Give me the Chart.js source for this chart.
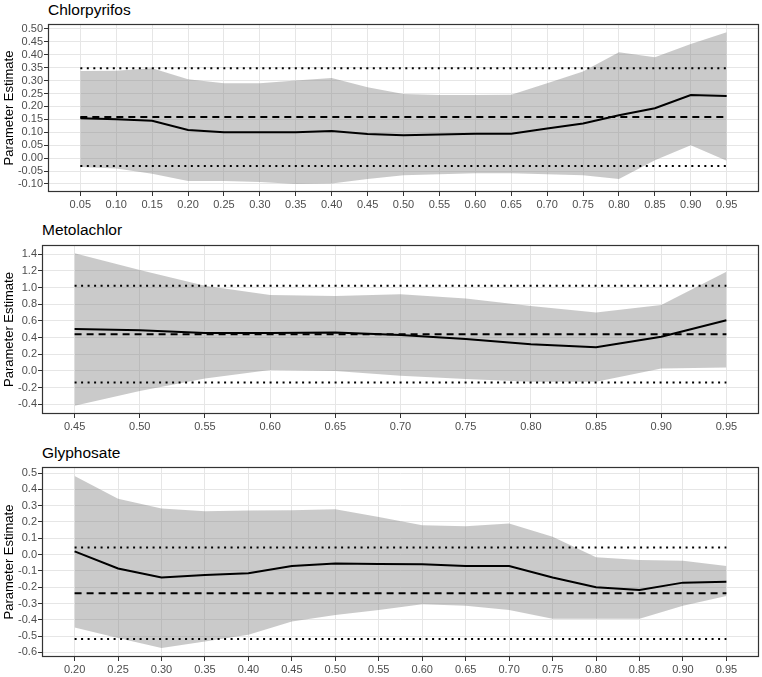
<!DOCTYPE html>
<html>
<head>
<meta charset="utf-8">
<script src="https://cdn.jsdelivr.net/npm/chart.js@4"></script>
<style>
  body { margin: 0; background: #fff; font-family: "Liberation Sans", Arial, sans-serif; }
  .wrap { position: relative; width: 762px; height: 677px; }
  canvas { position: absolute; left: 0; }
  .ptitle { position: absolute; font-size: 15.5px; line-height: 18px; color: #000; }
</style>
</head>
<body>
<div class="wrap">
  <div class="ptitle" style="left:48px; top:1px;">Chlorpyrifos</div>
  <canvas id="c1" width="762" height="215" style="top:0px; width:762px; height:215px;"></canvas>
  <div class="ptitle" style="left:42px; top:221px;">Metolachlor</div>
  <canvas id="c2" width="762" height="225" style="top:215px; width:762px; height:225px;"></canvas>
  <div class="ptitle" style="left:42px; top:444px;">Glyphosate</div>
  <canvas id="c3" width="762" height="237" style="top:440px; width:762px; height:237px;"></canvas>
</div>
<script>
// Chlorpyrifos
const chlorX = [0.05, 0.10, 0.15, 0.20, 0.25, 0.30, 0.35, 0.40, 0.45, 0.50, 0.55, 0.60, 0.65, 0.70, 0.75, 0.80, 0.85, 0.90, 0.95];
const chlorEst = [0.154, 0.150, 0.145, 0.109, 0.100, 0.100, 0.100, 0.105, 0.093, 0.089, 0.091, 0.094, 0.094, 0.115, 0.134, 0.166, 0.193, 0.244, 0.240];
const chlorUpper = [0.337, 0.338, 0.348, 0.305, 0.290, 0.290, 0.300, 0.310, 0.274, 0.248, 0.244, 0.244, 0.245, 0.290, 0.335, 0.410, 0.390, 0.442, 0.487];
const chlorLower = [-0.034, -0.040, -0.060, -0.088, -0.088, -0.092, -0.100, -0.098, -0.081, -0.066, -0.062, -0.058, -0.058, -0.062, -0.066, -0.081, -0.008, 0.050, -0.010];
const chlorRef = { mean: 0.159, hi: 0.348, lo: -0.030 };
const chlorYTicks = [-0.10, -0.05, 0.00, 0.05, 0.10, 0.15, 0.20, 0.25, 0.30, 0.35, 0.40, 0.45, 0.50];

// Metolachlor
const metoX = [0.45, 0.50, 0.55, 0.60, 0.65, 0.70, 0.75, 0.80, 0.85, 0.90, 0.95];
const metoEst = [0.503, 0.488, 0.455, 0.455, 0.460, 0.431, 0.383, 0.320, 0.284, 0.410, 0.608];
const metoUpper = [1.41, 1.21, 1.02, 0.91, 0.90, 0.92, 0.87, 0.78, 0.70, 0.79, 1.19];
const metoLower = [-0.417, -0.24, -0.09, 0.01, 0.00, -0.057, -0.097, -0.13, -0.13, 0.03, 0.04];
const metoRef = { mean: 0.44, hi: 1.02, lo: -0.137 };
const metoYTicks = [-0.4, -0.2, 0.0, 0.2, 0.4, 0.6, 0.8, 1.0, 1.2, 1.4];

// Glyphosate
const glyX = [0.20, 0.25, 0.30, 0.35, 0.40, 0.45, 0.50, 0.55, 0.60, 0.65, 0.70, 0.75, 0.80, 0.85, 0.90, 0.95];
const glyEst = [0.02, -0.085, -0.14, -0.125, -0.115, -0.07, -0.054, -0.057, -0.06, -0.07, -0.07, -0.14, -0.20, -0.217, -0.172, -0.166];
const glyUpper = [0.482, 0.343, 0.282, 0.266, 0.27, 0.272, 0.278, 0.231, 0.18, 0.174, 0.19, 0.109, -0.017, -0.034, -0.038, -0.07];
const glyLower = [-0.447, -0.512, -0.573, -0.533, -0.492, -0.41, -0.37, -0.34, -0.305, -0.313, -0.34, -0.394, -0.394, -0.394, -0.313, -0.254];
const glyRef = { mean: -0.237, hi: 0.044, lo: -0.518 };
const glyYTicks = [-0.6, -0.5, -0.4, -0.3, -0.2, -0.1, 0.0, 0.1, 0.2, 0.3, 0.4, 0.5];

const tickFont = { family: 'Liberation Sans, Arial, sans-serif', size: 11 };

// draws the dark frame round the panel
const panelBorder = {
  id: 'panelBorder',
  afterDraw(chart) {
    const a = chart.chartArea;
    const ctx = chart.ctx;
    ctx.save();
    ctx.strokeStyle = '#333';
    ctx.lineWidth = 1.2;
    ctx.strokeRect(a.left + 0.5, a.top + 0.5, a.right - a.left - 1, a.bottom - a.top - 1);
    ctx.restore();
  }
};

const toPts = (xs, ys) => xs.map((x, i) => ({ x: x, y: ys[i] }));
const hline = (xs, v) => [{ x: xs[0], y: v }, { x: xs[xs.length - 1], y: v }];

function makePanel(id, xs, est, upper, lower, ref, yTicks, opts) {
  const span = xs[xs.length - 1] - xs[0];
  const ySpan = opts.yMax - opts.yMin;
  const lineDs = (data, dash) => ({
    data: data, borderColor: '#000', borderWidth: 2, borderDash: dash,
    pointRadius: 0, fill: false, order: 0, borderCapStyle: 'butt'
  });
  new Chart(document.getElementById(id), {
    type: 'line',
    data: {
      datasets: [
        { data: toPts(xs, upper), borderWidth: 0, pointRadius: 0, fill: false, order: 1 },
        { data: toPts(xs, lower), borderWidth: 0, pointRadius: 0, fill: '-1',
          backgroundColor: 'rgba(128,128,128,0.42)', order: 1 },
        lineDs(toPts(xs, est), []),
        lineDs(hline(xs, ref.mean), [7, 5]),
        lineDs(hline(xs, ref.hi), [2, 4.5]),
        lineDs(hline(xs, ref.lo), [2, 4.5])
      ]
    },
    options: {
      responsive: false,
      animation: false,
      layout: { padding: { top: opts.top, right: 3, left: 0, bottom: 0 } },
      plugins: { legend: { display: false }, tooltip: { enabled: false } },
      scales: {
        x: {
          type: 'linear',
          min: xs[0] - span * 0.05,
          max: xs[xs.length - 1] + span * 0.05,
          afterBuildTicks: (scale) => { scale.ticks = xs.map(v => ({ value: v })); },
          afterFit: (scale) => { scale.height = opts.xHeight; },
          ticks: { color: '#4d4d4d', font: tickFont, padding: 2, maxRotation: 0, autoSkip: false,
            callback: (v) => Number(v).toFixed(2) },
          grid: { color: '#e6e6e6', lineWidth: 1, tickLength: 4, tickColor: '#333' },
          border: { display: false }
        },
        y: {
          min: opts.yMin,
          max: opts.yMax,
          afterBuildTicks: (scale) => { scale.ticks = yTicks.map(v => ({ value: v })); },
          afterFit: (scale) => { scale.width = opts.yWidth; },
          ticks: { color: '#4d4d4d', font: tickFont, padding: 1, autoSkip: false,
            callback: (v) => Number(v).toFixed(opts.dec) },
          grid: { color: '#e6e6e6', lineWidth: 1, tickLength: 4, tickColor: '#333' },
          border: { display: false },
          title: { display: true, text: 'Parameter Estimate', color: '#000',
            font: { family: 'Liberation Sans, Arial, sans-serif', size: 13 }, padding: 2 }
        }
      }
    },
    plugins: [panelBorder]
  });
}

makePanel('c1', chlorX, chlorEst, chlorUpper, chlorLower, chlorRef, chlorYTicks,
  { yMin: -0.131, yMax: 0.519, dec: 2, top: 24, xHeight: 23, yWidth: 48 });
makePanel('c2', metoX, metoEst, metoUpper, metoLower, metoRef, metoYTicks,
  { yMin: -0.516, yMax: 1.51, dec: 1, top: 30, xHeight: 26, yWidth: 42 });
makePanel('c3', glyX, glyEst, glyUpper, glyLower, glyRef, glyYTicks,
  { yMin: -0.628, yMax: 0.537, dec: 1, top: 27, xHeight: 20, yWidth: 42 });
</script>
</body>
</html>
